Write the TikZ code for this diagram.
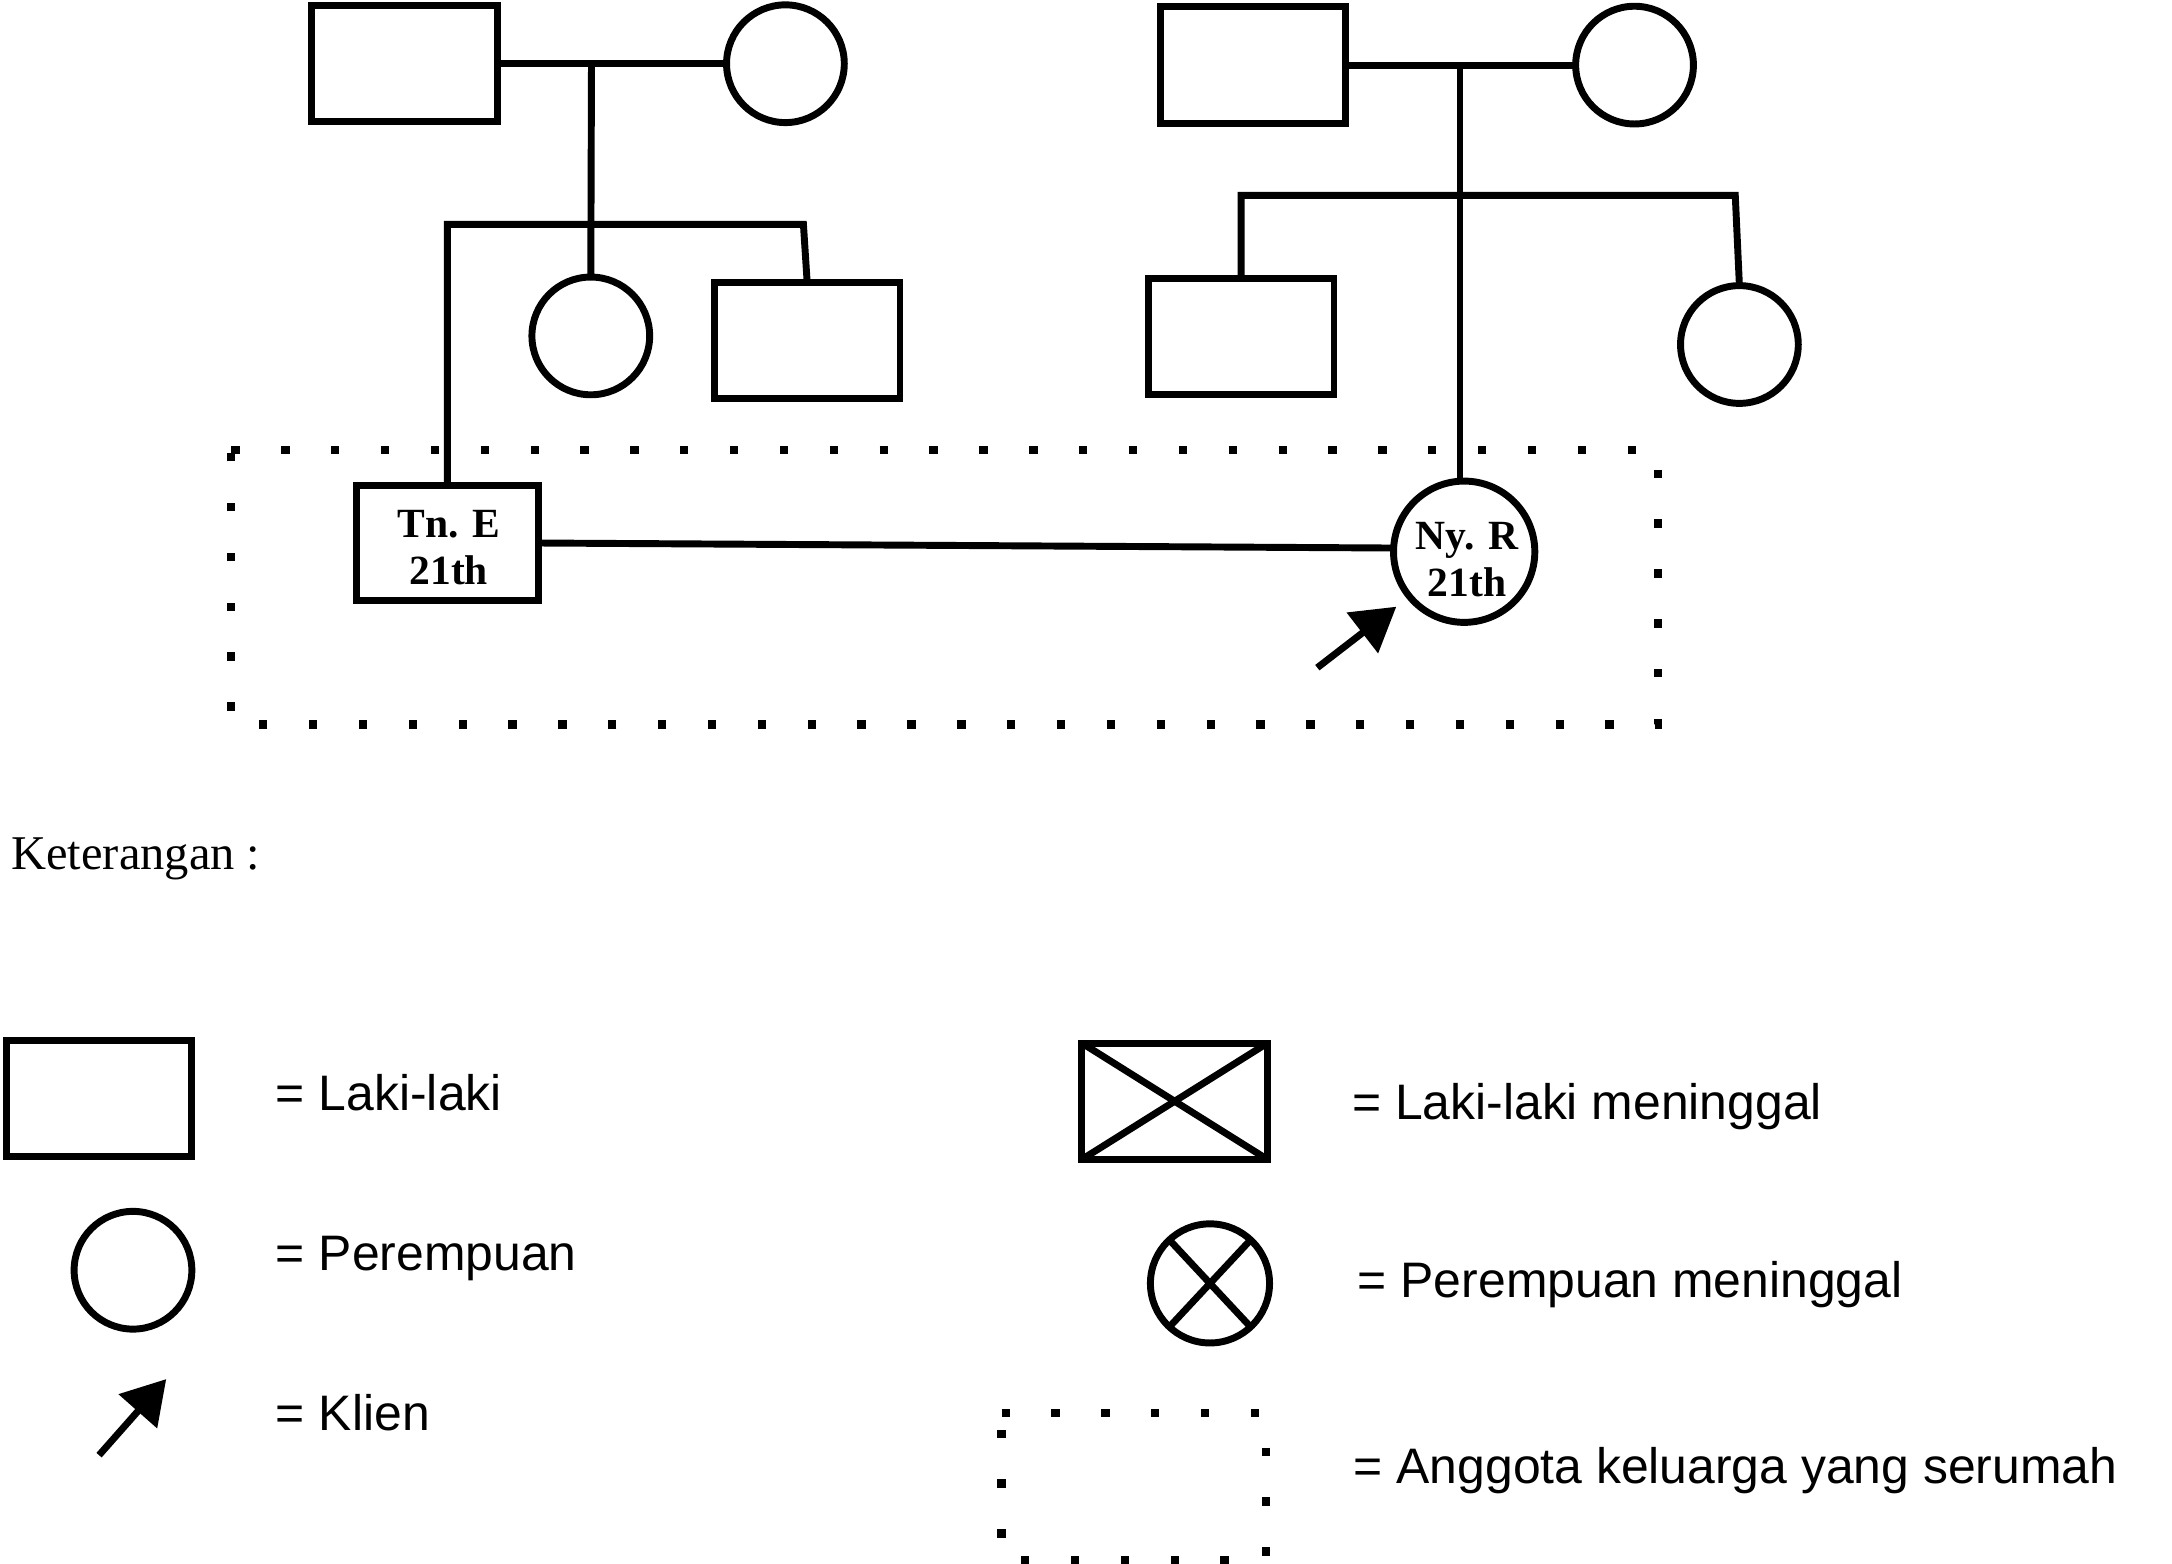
\documentclass[tikz,border=0pt]{standalone}
\usepackage{fontspec}
\setmainfont{Liberation Serif}
\newfontfamily\sansf{Liberation Sans}
\usetikzlibrary{arrows.meta}
\begin{document}
\begin{tikzpicture}[x=1pt,y=-1pt,
  male/.style={draw, line width=5pt, rectangle, minimum width=134pt, minimum height=84pt, inner sep=0pt, outer sep=0pt},
  female/.style={draw, line width=5pt, circle, minimum size=85pt, inner sep=0pt, outer sep=0pt},
  link/.style={line width=5pt},
  house/.style={line width=6pt, dash pattern=on 6pt off 30pt},
  pointer/.style={line width=5pt, -{Triangle[length=31pt,width=36pt]}},
  lab/.style={anchor=base west, inner sep=0pt, font=\sansf\fontsize{36}{43}\selectfont},
  pname/.style={font=\bfseries\fontsize{30}{34}\selectfont, align=center, inner sep=0pt}
]
\useasboundingbox (0,0) rectangle (1568,1129);

% left grandparents and children
\node[male] (gf1) at (292,46) {};
\node[female] (gm1) at (567,46) {};
\node[female] (sis1) at (426.5,242.5) {};
\node[male] (bro1) at (582.7,245.8) {};
\node[male, minimum width=131.5pt, minimum height=83.5pt] (tne) at (323,392) {};
\node[pname] (tnelab) at (324,395) {Tn. E\\21th};

% right grandparents and children
\node[male] (gf2) at (904.5,47) {};
\node[female] (gm2) at (1180,47) {};
\node[male] (bro2) at (896,243) {};
\node[female] (sis2) at (1255.7,248.7) {};
\node[female, minimum size=102pt] (nyr) at (1057,398.3) {};
\node[pname] (nyrlab) at (1059,404) {Ny. R\\21th};

% connectors left
\coordinate (m1) at (427,46);
\coordinate (s1r) at (580,162);
\draw[link] (gf1) -- (gm1);
\draw[link] (m1) -- (sis1.north);
\draw[link] (tne.north) |- (s1r) -- (bro1.north);

% connectors right
\coordinate (m2) at (1054,47);
\coordinate (s2r) at (1252.7,141);
\draw[link] (gf2) -- (gm2);
\draw[link] (m2) -- (m2 |- nyr.north);
\draw[link] (bro2.north) |- (s2r) -- (sis2.north);

% marriage
\draw[link] (tne.east) -- (nyr.177);

% client arrow
\coordinate (p1) at (951,482);
\coordinate (p2) at (1008,438);
\draw[pointer] (p1) -- (p2);

% household
\draw[house] (167,325) -- (1197,325) -- (1197,523) -- (167,523) -- cycle;

% legend
\node[anchor=base west, inner sep=0pt, font=\fontsize{35}{42}\selectfont] (ket) at (8,628) {Keterangan :};

\node[male] (lm) at (71.5,793) {};
\node[female] (lf) at (96,917) {};
\coordinate (k1) at (71.5,1050.5);
\coordinate (k2) at (120,995.6);
\draw[pointer] (k1) -- (k2);

\node[male] (dm) at (848,795) {};
\draw[link] (dm.north west) -- (dm.south east);
\draw[link] (dm.south west) -- (dm.north east);
\node[female, minimum size=86pt] (df) at (873.5,926.5) {};
\draw[link] (df.133) -- (df.-47);
\draw[link] (df.47) -- (df.-133);
\draw[house] (723,1020) -- (914,1020) -- (914,1126) -- (723,1126) -- cycle;

\node[lab] (t1) at (199,802) {= Laki-laki};
\node[lab] (t2) at (199,917) {= Perempuan};
\node[lab] (t3) at (199,1033) {= Klien};
\node[lab] (t4) at (976,808) {= Laki-laki meninggal};
\node[lab] (t5) at (980,937) {= Perempuan meninggal};
\node[lab] (t6) at (977,1071) {= Anggota keluarga yang serumah};
\end{tikzpicture}
\end{document}
